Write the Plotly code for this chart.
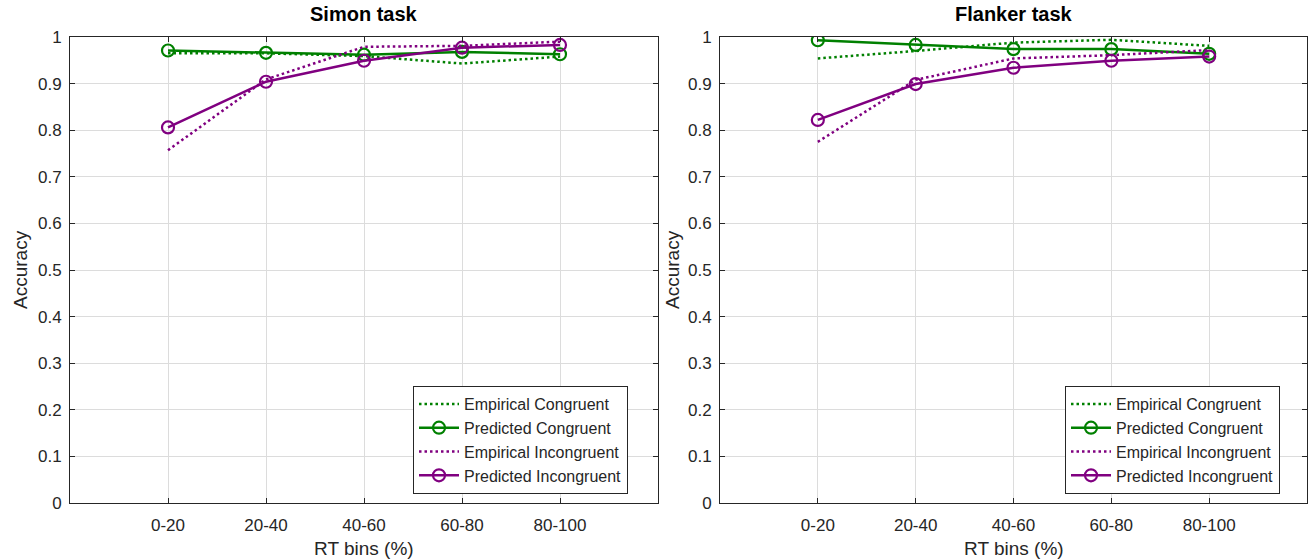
import plotly.graph_objects as go

# RT bin categories and accuracy per condition
rt_bins = ["0-20", "20-40", "40-60", "60-80", "80-100"]
bin_pos = [1, 2, 3, 4, 5]

simon_emp_cong = [0.965, 0.965, 0.959, 0.943, 0.958]
simon_pred_cong = [0.971, 0.966, 0.962, 0.968, 0.963]
simon_emp_incong = [0.757, 0.909, 0.979, 0.981, 0.990]
simon_pred_incong = [0.806, 0.904, 0.949, 0.977, 0.983]

flanker_emp_cong = [0.954, 0.970, 0.988, 0.994, 0.981]
flanker_pred_cong = [0.993, 0.983, 0.974, 0.974, 0.964]
flanker_emp_incong = [0.775, 0.908, 0.954, 0.961, 0.972]
flanker_pred_incong = [0.822, 0.899, 0.934, 0.949, 0.958]

y_ticks = [0, 0.1, 0.2, 0.3, 0.4, 0.5, 0.6, 0.7, 0.8, 0.9, 1]
y_tick_text = ["0", "0.1", "0.2", "0.3", "0.4", "0.5", "0.6", "0.7", "0.8", "0.9", "1"]

GREEN = "#008000"
PURPLE = "#800080"
AX = "#262626"
FONT = "Liberation Sans, Arial, sans-serif"

W, H = 1312, 560

fig = go.Figure()


def add_task(xa, ya, leg, emp_c, pred_c, emp_i, pred_i):
    common = dict(x=bin_pos, xaxis=xa, yaxis=ya, legend=leg)
    fig.add_trace(go.Scatter(y=emp_c, name="Empirical Congruent", mode="lines",
                             line=dict(color=GREEN, width=2.5, dash="2.5px,3px"), **common))
    fig.add_trace(go.Scatter(y=pred_c, name="Predicted Congruent", mode="lines+markers",
                             line=dict(color=GREEN, width=2.5),
                             marker=dict(symbol="circle-open", size=12, color=GREEN,
                                         line=dict(width=2.2, color=GREEN)), **common))
    fig.add_trace(go.Scatter(y=emp_i, name="Empirical Incongruent", mode="lines",
                             line=dict(color=PURPLE, width=2.5, dash="2.5px,3px"), **common))
    fig.add_trace(go.Scatter(y=pred_i, name="Predicted Incongruent", mode="lines+markers",
                             line=dict(color=PURPLE, width=2.5),
                             marker=dict(symbol="circle-open", size=12, color=PURPLE,
                                         line=dict(width=2.2, color=PURPLE)), **common))


add_task("x", "y", "legend", simon_emp_cong, simon_pred_cong, simon_emp_incong, simon_pred_incong)
add_task("x2", "y2", "legend2", flanker_emp_cong, flanker_pred_cong, flanker_emp_incong, flanker_pred_incong)

y_dom = [1 - 503 / H, 1 - 37 / H]
left_dom = [70 / W, 658 / W]
right_dom = [720 / W, 1307 / W]

xaxis_style = dict(
    range=[0, 6], tickvals=bin_pos, ticktext=rt_bins,
    showgrid=True, gridcolor="#dcdcdc", gridwidth=1,
    showline=True, linecolor=AX, linewidth=1, mirror="allticks",
    ticks="inside", ticklen=5, tickcolor=AX, ticklabelstandoff=7,
    tickfont=dict(family=FONT, size=17, color=AX),
    zeroline=False, automargin=False,
)
yaxis_style = dict(
    range=[0, 1], tickvals=y_ticks, ticktext=y_tick_text,
    showgrid=True, gridcolor="#dcdcdc", gridwidth=1,
    showline=True, linecolor=AX, linewidth=1, mirror="allticks",
    ticks="inside", ticklen=5, tickcolor=AX, ticklabelstandoff=4,
    tickfont=dict(family=FONT, size=17, color=AX),
    zeroline=False, automargin=False,
)

legend_style = dict(
    bgcolor="white", bordercolor=AX, borderwidth=1,
    font=dict(family=FONT, size=16, color=AX),
    xanchor="right", yanchor="bottom",
    tracegroupgap=0, itemwidth=40,
)


def label(text, x, y, size, angle=0):
    return dict(text=text, x=x, y=y, xref="paper", yref="paper", showarrow=False,
                xanchor="center", yanchor="middle", textangle=angle,
                font=dict(family=FONT, size=size, color=AX))


annotations = []
for dom, title, ylab_x in [(left_dom, "<b>Simon task</b>", 20), (right_dom, "<b>Flanker task</b>", 672)]:
    cx = sum(dom) / 2
    a = label(title, cx, 1 - 14 / H, 20)
    a["font"]["color"] = "black"
    annotations.append(a)
    annotations.append(label("RT bins (%)", cx, 1 - 548 / H, 19))
    annotations.append(label("Accuracy", ylab_x / W, sum(y_dom) / 2, 19, angle=-90))

fig.update_layout(
    width=W, height=H,
    margin=dict(l=0, r=0, t=0, b=0),
    paper_bgcolor="white", plot_bgcolor="white",
    xaxis=dict(domain=left_dom, anchor="y", **xaxis_style),
    yaxis=dict(domain=y_dom, anchor="x", **yaxis_style),
    xaxis2=dict(domain=right_dom, anchor="y2", **xaxis_style),
    yaxis2=dict(domain=y_dom, anchor="x2", **yaxis_style),
    legend=dict(x=628 / W, y=1 - 494 / H, **legend_style),
    legend2=dict(x=1280 / W, y=1 - 494 / H, **legend_style),
    annotations=annotations,
)

fig.write_html("out.html")
